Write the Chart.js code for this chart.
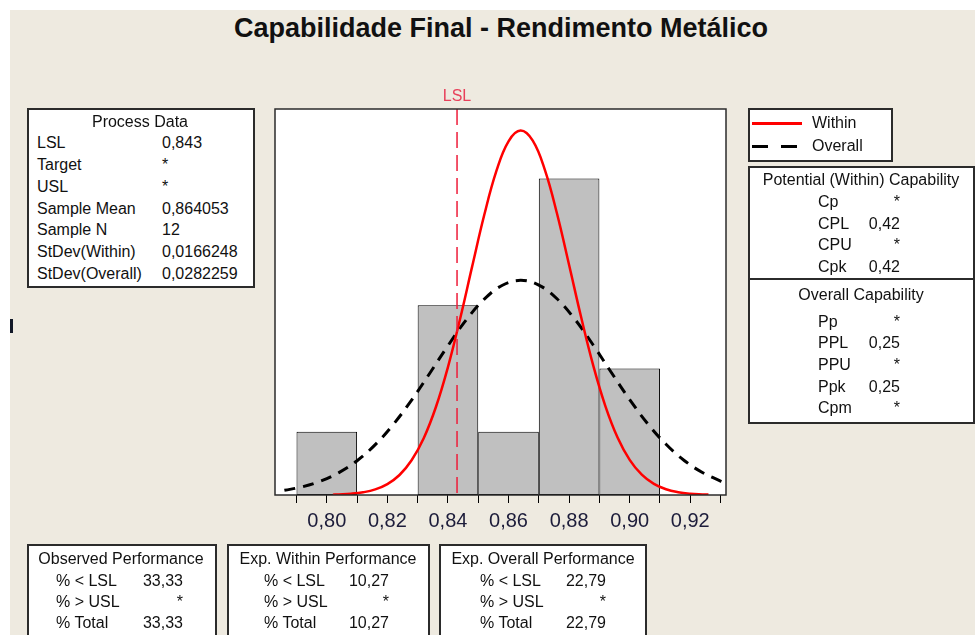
<!DOCTYPE html>
<html>
<head>
<meta charset="utf-8">
<script src="https://cdn.jsdelivr.net/npm/chart.js@4.4.0/dist/chart.umd.min.js"></script>
<style>
  body { margin: 0; background: #fff; width: 975px; height: 635px; overflow: hidden; position: relative;
         font-family: 'Liberation Sans', Arial, sans-serif; color: #111; }
  #back { position: absolute; left: 10px; top: 10px; width: 965px; height: 625px; background: #EEEAE0; }
  #chart { position: absolute; left: 0; top: 0; }
  .box { position: absolute; background: #fff; border: 2px solid #2b2b2b; box-sizing: border-box; }
  .t { position: absolute; font-size: 16px; line-height: 20px; height: 20px; white-space: nowrap; }
  #title { position: absolute; left: 0; width: 1002px; top: 12px; text-align: center;
           font-weight: bold; font-size: 27px; line-height: 32px; color: #111; }
</style>
</head>
<body>
<div id="back"></div>
<div id="title">Capabilidade Final - Rendimento Metálico</div>
<canvas id="chart" width="975" height="635"></canvas>
<script>
'use strict';

// ***** DATA *****
let binCenters = [0.80, 0.82, 0.84, 0.86, 0.88, 0.90];
let binCounts = [1, 0, 3, 1, 5, 2];

let withinX = [0.802, 0.804, 0.808, 0.812, 0.816, 0.820, 0.824, 0.828, 0.832, 0.836, 0.840,
  0.844, 0.848, 0.852, 0.856, 0.860, 0.864, 0.868, 0.872, 0.876, 0.880, 0.884, 0.888,
  0.892, 0.896, 0.900, 0.904, 0.908, 0.912, 0.916, 0.920, 0.924, 0.926];
let withinY = [0.005, 0.009, 0.020, 0.043, 0.088, 0.172, 0.316, 0.549, 0.898, 1.387, 2.022,
  2.782, 3.613, 4.428, 5.121, 5.590, 5.759, 5.599, 5.137, 4.448, 3.635, 2.804, 2.041,
  1.402, 0.909, 0.556, 0.321, 0.175, 0.090, 0.044, 0.020, 0.009, 0.006];

let overallX = [0.786, 0.792, 0.798, 0.804, 0.810, 0.816, 0.822, 0.828, 0.834, 0.840, 0.846,
  0.852, 0.858, 0.864, 0.870, 0.876, 0.882, 0.888, 0.894, 0.900, 0.906, 0.912, 0.918,
  0.924, 0.930, 0.932];
let overallY = [0.074, 0.130, 0.220, 0.353, 0.542, 0.796, 1.118, 1.500, 1.924, 2.359, 2.765,
  3.096, 3.315, 3.392, 3.317, 3.101, 2.771, 2.367, 1.932, 1.508, 1.124, 0.802, 0.546,
  0.356, 0.221, 0.187];

let lsl = 0.843;

let tickValues = [0.79, 0.80, 0.81, 0.82, 0.83, 0.84, 0.85, 0.86, 0.87, 0.88, 0.89, 0.90, 0.91, 0.92, 0.93];
let tickLabels = ['', '0,80', '', '0,82', '', '0,84', '', '0,86', '', '0,88', '', '0,90', '', '0,92', ''];

let processRows = [['LSL', '0,843'], ['Target', '*'], ['USL', '*'], ['Sample Mean', '0,864053'],
  ['Sample N', '12'], ['StDev(Within)', '0,0166248'], ['StDev(Overall)', '0,0282259']];
let potentialRows = [['Cp', '*'], ['CPL', '0,42'], ['CPU', '*'], ['Cpk', '0,42']];
let overallRows = [['Pp', '*'], ['PPL', '0,25'], ['PPU', '*'], ['Ppk', '0,25'], ['Cpm', '*']];
let observedRows = [['% < LSL', '33,33'], ['% > USL', '*'], ['% Total', '33,33']];
let expWithinRows = [['% < LSL', '10,27'], ['% > USL', '*'], ['% Total', '10,27']];
let expOverallRows = [['% < LSL', '22,79'], ['% > USL', '*'], ['% Total', '22,79']];

// ***** HTML HELPERS *****
function addBox(x, y, w, h) {
  let d = document.createElement('div');
  d.className = 'box';
  Object.assign(d.style, { left: x + 'px', top: y + 'px', width: w + 'px', height: h + 'px' });
  document.body.appendChild(d);
}

function addText(text, x, y, align) {
  let d = document.createElement('div');
  d.className = 't';
  d.textContent = text;
  d.style.top = (y - 10) + 'px';
  if (align === 'right') {
    d.style.right = (975 - x) + 'px';
  } else if (align === 'center') {
    d.style.left = (x - 200) + 'px';
    d.style.width = '400px';
    d.style.textAlign = 'center';
  } else {
    d.style.left = x + 'px';
  }
  document.body.appendChild(d);
}

function addRect(x, y, w, h, color) {
  let d = document.createElement('div');
  Object.assign(d.style, { position: 'absolute', left: x + 'px', top: y + 'px', width: w + 'px', height: h + 'px', background: color });
  document.body.appendChild(d);
}

function addRows(rows, labelX, valueX, ys, valueAlign) {
  for (let i = 0; i < rows.length; i++) {
    addText(rows[i][0], labelX, ys[i], 'left');
    addText(rows[i][1], valueX, ys[i], valueAlign);
  }
}

// ***** SIDE BOXES *****
addBox(27, 108, 228, 180);
addText('Process Data', 140, 122, 'center');
addRows(processRows, 37, 162, [143, 165, 187, 209, 230, 252, 274], 'left');

addBox(748, 108, 145, 54);
addRect(752, 122, 50, 3, '#ff0000');
addRect(752, 145, 16, 3, '#000');
addRect(781, 145, 16, 3, '#000');
addText('Within', 812, 123, 'left');
addText('Overall', 812, 146, 'left');

addBox(748, 166, 227, 258);
addRect(748, 278, 227, 2, '#2b2b2b');
addText('Potential (Within) Capability', 861, 180, 'center');
addRows(potentialRows, 818, 900, [202, 224, 245, 267], 'right');
addText('Overall Capability', 861, 295, 'center');
addRows(overallRows, 818, 900, [322, 343, 365, 387, 408], 'right');

let bottomYs = [581, 602, 623];
addBox(27, 544, 190, 110);
addText('Observed Performance', 121, 559, 'center');
addRows(observedRows, 56, 183, bottomYs, 'right');
addBox(227, 544, 203, 110);
addText('Exp. Within Performance', 328, 559, 'center');
addRows(expWithinRows, 264, 389, bottomYs, 'right');
addBox(439, 544, 208, 110);
addText('Exp. Overall Performance', 543, 559, 'center');
addRows(expOverallRows, 480, 606, bottomYs, 'right');

addRect(10, 319, 3, 14, '#111827');

// ***** CHART *****
let decoPlugin = {
  id: 'deco',
  beforeDatasetsDraw(chart) {
    let { ctx, chartArea: a } = chart;
    ctx.save();
    ctx.fillStyle = '#fff';
    ctx.fillRect(a.left, a.top, a.width, a.height);
    ctx.restore();
  },
  afterDatasetsDraw(chart) {
    let { ctx, chartArea: a } = chart;
    let x = chart.scales.x.getPixelForValue(lsl);
    ctx.save();
    ctx.strokeStyle = '#ee1c3a';
    ctx.lineWidth = 1.5;
    ctx.setLineDash([16, 7]);
    ctx.beginPath();
    ctx.moveTo(x, a.top);
    ctx.lineTo(x, a.bottom);
    ctx.stroke();
    ctx.setLineDash([]);
    ctx.strokeStyle = '#2b2b2b';
    ctx.lineWidth = 1.5;
    ctx.strokeRect(a.left, a.top, a.width, a.height);
    ctx.fillStyle = '#e8405a';
    ctx.font = '16px "Liberation Sans", Arial, sans-serif';
    ctx.textAlign = 'center';
    ctx.textBaseline = 'middle';
    ctx.fillText('LSL', x, a.top - 12);
    ctx.restore();
  }
};

new Chart(document.getElementById('chart'), {
  type: 'bar',
  data: {
    datasets: [
      {
        type: 'line',
        label: 'Within',
        data: withinX.map((x, i) => ({ x: x, y: withinY[i] })),
        borderColor: '#ff0000',
        borderWidth: 2.5,
        pointRadius: 0,
        tension: 0.4,
        order: 1
      },
      {
        type: 'line',
        label: 'Overall',
        data: overallX.map((x, i) => ({ x: x, y: overallY[i] })),
        borderColor: '#000',
        borderWidth: 3,
        borderDash: [11, 8],
        pointRadius: 0,
        tension: 0.4,
        order: 2
      },
      {
        type: 'bar',
        label: 'Counts',
        data: binCenters.map((x, i) => ({ x: x, y: binCounts[i] })),
        backgroundColor: '#C0C0C0',
        borderColor: '#000',
        borderWidth: 1,
        borderSkipped: false,
        // bar width is sized from the 0.01 tick spacing, so 2 gives the 0.02 bin width
        barPercentage: 2,
        categoryPercentage: 1,
        order: 3
      }
    ]
  },
  options: {
    responsive: false,
    animation: false,
    devicePixelRatio: 1,
    layout: { padding: { left: 275, right: 249, top: 109, bottom: 0 } },
    plugins: { legend: { display: false }, title: { display: false }, tooltip: { enabled: false } },
    scales: {
      x: {
        type: 'linear',
        min: 0.7829,
        max: 0.9318,
        offset: false,
        afterBuildTicks: s => { s.ticks = tickValues.map(v => ({ value: v })); },
        afterFit: s => { s.height = 140; },
        grid: { display: true, offset: false, drawOnChartArea: false, drawTicks: true, tickLength: 8, color: '#000', lineWidth: 1 },
        border: { display: false },
        ticks: {
          autoSkip: false,
          maxRotation: 0,
          padding: 6,
          color: '#1c1c3a',
          font: { family: '"Liberation Sans", Arial, sans-serif', size: 20 },
          callback: (v, i) => tickLabels[i]
        }
      },
      y: { display: false, min: 0, max: 6.1 }
    }
  },
  plugins: [decoPlugin]
});
</script>
</body>
</html>
